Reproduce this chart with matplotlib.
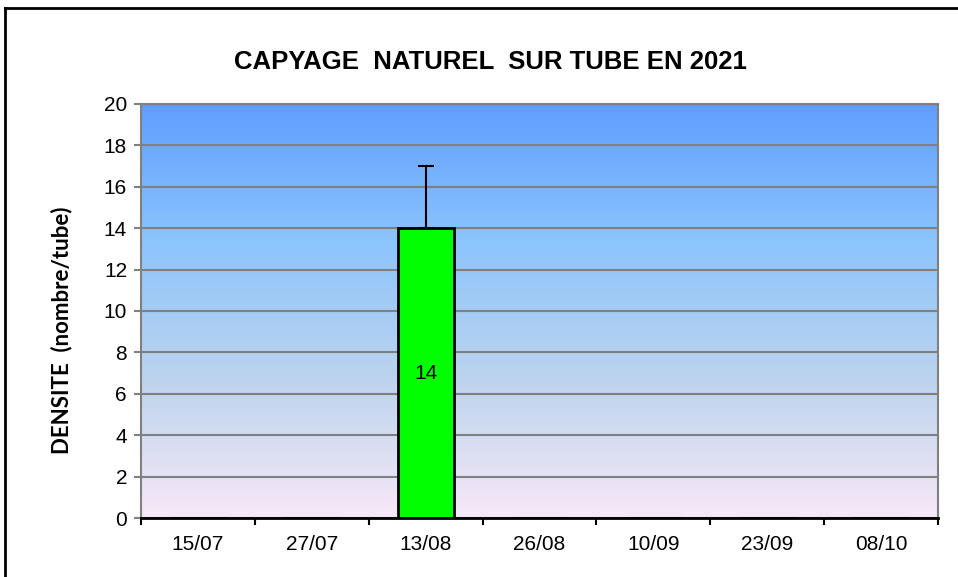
import numpy as np
import matplotlib.pyplot as plt
from matplotlib.colors import LinearSegmentedColormap
from matplotlib.lines import Line2D

dates = ["15/07", "27/07", "13/08", "26/08", "10/09", "23/09", "08/10"]
densite = [0, 0, 14, 0, 0, 0, 0]
erreur = [0, 0, 3, 0, 0, 0, 0]

plt.rcParams['font.family'] = ['Liberation Sans', 'DejaVu Sans']

fig = plt.figure(figsize=(9.58, 5.77), dpi=100)
W, H = 958, 577
ax = fig.add_axes([141 / W, 1 - 518 / H, (938 - 141) / W, (518 - 104) / H])

x = np.arange(len(dates))
ax.set_xlim(-0.5, len(dates) - 0.5)
ax.set_ylim(0, 20)

# fond en dégradé
cmap = LinearSegmentedColormap.from_list(
    "fond", [(0.97, 0.91, 0.97), (0.74, 0.83, 0.93), (0.55, 0.77, 0.99), (0.37, 0.62, 1.0)])
grad = np.linspace(0, 1, 256).reshape(-1, 1)
ax.imshow(grad, cmap=cmap, aspect="auto", origin="lower",
          extent=[-0.5, len(dates) - 0.5, 0, 20], zorder=0)

ax.set_yticks(np.arange(0, 21, 2))
ax.grid(axis="y", color="#808080", linewidth=1.5, zorder=1)
ax.set_axisbelow(False)

ax.bar(x, densite, width=0.49, color="#00ff00", edgecolor="black", linewidth=2, zorder=3)
ax.errorbar(x[2], densite[2], yerr=[[0], [erreur[2]]], fmt="none", ecolor="black",
            elinewidth=1.5, capsize=6, capthick=1.5, zorder=4)
for xi, v in zip(x, densite):
    if v > 0:
        ax.text(xi, v / 2, str(v), ha="center", va="center", fontsize=15, zorder=5)

ax.set_xticks(x)
ax.set_xticklabels(dates, fontsize=15)
ax.set_xticks(np.arange(-0.5, len(dates), 1), minor=True)
ax.tick_params(axis="x", which="major", length=0, pad=12)
ax.tick_params(axis="x", which="minor", length=5, width=1.5, color="black")
ax.tick_params(axis="y", length=5, width=1.5, color="#808080", labelsize=15, pad=5)

for s in ["top", "right", "left"]:
    ax.spines[s].set_color("#808080")
    ax.spines[s].set_linewidth(1.5)
ax.spines["bottom"].set_color("black")
ax.spines["bottom"].set_linewidth(2)
ax.spines["bottom"].set_zorder(6)

fig.text(62 / W, 1 - 330 / H, "DENSITE  (nombre/tube)", rotation=90,
         ha="center", va="center", fontsize=16, fontweight="bold",
         family=["Lato", "DejaVu Sans"])
fig.text(490 / W, 1 - 62 / H, "CAPYAGE  NATUREL  SUR TUBE EN 2021",
         ha="center", va="center", fontsize=18.5, fontweight="bold")

# cadre extérieur
fig.add_artist(Line2D([5 / W, 5 / W], [0, 1 - 8 / H], color="black", linewidth=2))
fig.add_artist(Line2D([5 / W, 1], [1 - 8 / H, 1 - 8 / H], color="black", linewidth=2))

fig.savefig("out.png", dpi=100)
